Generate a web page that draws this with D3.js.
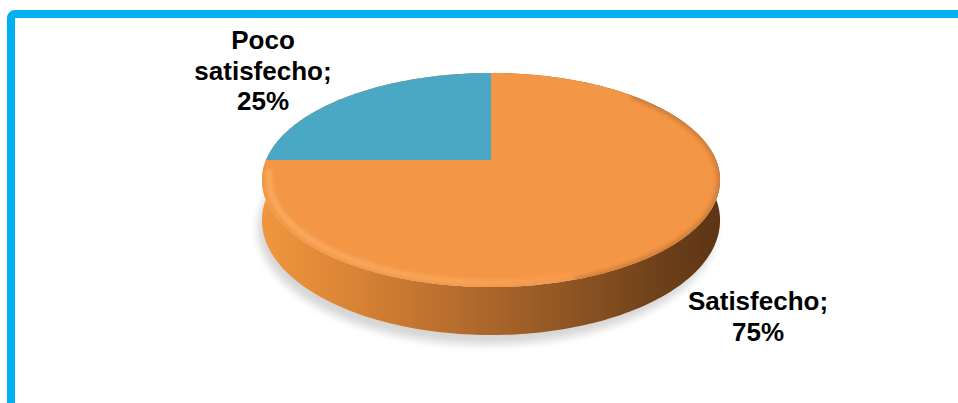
<!DOCTYPE html>
<html>
<head>
<meta charset="utf-8">
<script src="https://cdn.jsdelivr.net/npm/d3@7"></script>
<style>
    html, body { margin: 0; padding: 0; background: #ffffff; }
    svg { display: block; }
</style>
</head>
<body>
<div id="chart"></div>
<script>
// Chart data
const categories = ["Satisfecho", "Poco satisfecho"];
const values = [75, 25];
const colors = ["#f39646", "#4aa8c4"];

// Canvas size
const width = 958;
const height = 403;

// 3D pie geometry (perspective projection of a flat disc)
const pie3d = {cx: 491, cy: 160, rx: 225, ry: 103.3, k: 0.187, depth: 39};

// Label anchors (centre of each text block), same order as categories
const labelPos = [{x: 758, y: 310}, {x: 263, y: 49}];

const svg = d3.select("#chart").append("svg")
    .attr("width", width)
    .attr("height", height);

const defs = svg.append("defs");

// Side gradient: light orange on the left, dark brown on the right
const sideGrad = defs.append("linearGradient")
    .attr("id", "sideGrad")
    .attr("gradientUnits", "userSpaceOnUse")
    .attr("x1", pie3d.cx - pie3d.rx * 1.02).attr("x2", pie3d.cx + pie3d.rx * 1.02)
    .attr("y1", 0).attr("y2", 0);
[["0%", "#f0963f"], ["18%", "#dc8536"], ["45%", "#b26a2c"], ["70%", "#8a5222"], ["88%", "#6c3f19"], ["100%", "#5c3515"]]
    .forEach(s => sideGrad.append("stop").attr("offset", s[0]).attr("stop-color", s[1]));

// Highlight ridge gradient along the front edge of the top face
const ridgeGrad = defs.append("linearGradient")
    .attr("id", "ridgeGrad")
    .attr("gradientUnits", "userSpaceOnUse")
    .attr("x1", pie3d.cx - pie3d.rx).attr("x2", pie3d.cx + pie3d.rx)
    .attr("y1", 0).attr("y2", 0);
[["0%", "#ffbf7a", 0.6], ["45%", "#ffb46a", 0.55], ["75%", "#ffa85a", 0.2], ["100%", "#ffa85a", 0]]
    .forEach(s => ridgeGrad.append("stop").attr("offset", s[0]).attr("stop-color", s[1]).attr("stop-opacity", s[2]));

defs.append("filter").attr("id", "blur4")
    .attr("x", "-20%").attr("y", "-20%").attr("width", "140%").attr("height", "140%")
    .append("feGaussianBlur").attr("stdDeviation", 4);
defs.append("filter").attr("id", "blur2")
    .attr("x", "-10%").attr("y", "-10%").attr("width", "120%").attr("height", "120%")
    .append("feGaussianBlur").attr("stdDeviation", 2);

// Project a point of the disc (angle a as in d3.pie, radius fraction r) to the screen
function project(a, r, drop) {
    const u = r * Math.sin(a);
    const v = -r * Math.cos(a);
    const w = 1 - pie3d.k * v;
    return [pie3d.cx + pie3d.rx * u / w, pie3d.cy + (pie3d.ry * v + drop) / w];
}

function arcPoints(a0, a1, r, drop) {
    const n = Math.max(2, Math.ceil(Math.abs(a1 - a0) / 0.02));
    return d3.range(n + 1).map(i => project(a0 + (a1 - a0) * i / n, r, drop));
}

const line = d3.line();

// Pie layout, keep data order (starts at 12 o'clock, clockwise)
const arcs = d3.pie().sort(null)(values);

// Soft shadow under the disc
svg.append("path")
    .attr("d", line(arcPoints(0, 2 * Math.PI, 1.0, pie3d.depth + 6)) + "Z")
    .attr("fill", "#000")
    .attr("opacity", 0.16)
    .attr("transform", "translate(-4,2)")
    .attr("filter", "url(#blur4)");

// Side walls of each slice
svg.selectAll(".side")
    .data(arcs)
    .enter().append("path")
    .attr("class", "side")
    .attr("d", d => {
        const top = arcPoints(d.startAngle, d.endAngle, 1, 0);
        const bottom = arcPoints(d.startAngle, d.endAngle, 1, pie3d.depth).reverse();
        return line(top.concat(bottom)) + "Z";
    })
    .attr("fill", "url(#sideGrad)");

// Top faces of the slices
svg.selectAll(".slice")
    .data(arcs)
    .enter().append("path")
    .attr("class", "slice")
    .attr("d", d => line([[pie3d.cx, pie3d.cy]].concat(arcPoints(d.startAngle, d.endAngle, 1, 0))) + "Z")
    .attr("fill", (d, i) => colors[i]);

// Bevel: soft dark rim on the right, light ridge on the front
const topClip = defs.append("clipPath").attr("id", "topClip");
topClip.append("path").attr("d", line(arcPoints(0, 2 * Math.PI, 1, 0)) + "Z");

const bevel = svg.append("g").attr("clip-path", "url(#topClip)");

bevel.append("path")
    .attr("d", line(arcPoints(Math.PI * 0.25, Math.PI * 0.9, 1.0, 0)))
    .attr("fill", "none")
    .attr("stroke", "#8a4a1a")
    .attr("stroke-opacity", 0.35)
    .attr("stroke-width", 6)
    .attr("filter", "url(#blur2)");

bevel.append("path")
    .attr("d", line(arcPoints(Math.PI * 0.55, Math.PI * 1.47, 0.97, 0)))
    .attr("fill", "none")
    .attr("stroke", "url(#ridgeGrad)")
    .attr("stroke-width", 5)
    .attr("filter", "url(#blur2)");

// Data labels: category wrapped by words, then the percentage
arcs.forEach((d, i) => {
    const words = categories[i].split(" ");
    words[words.length - 1] += ";";
    const lines = words.concat([values[i] + "%"]);
    const t = svg.append("text")
        .attr("x", labelPos[i].x)
        .attr("y", labelPos[i].y)
        .attr("text-anchor", "middle")
        .style("font-family", "'Liberation Sans', Arial, sans-serif")
        .style("font-weight", "bold")
        .style("font-size", "26px")
        .attr("fill", "#000");
    lines.forEach((l, j) => {
        t.append("tspan")
            .attr("x", labelPos[i].x)
            .attr("dy", j === 0 ? 0 : 30.5)
            .text(l);
    });
});

// Frame around the chart area
svg.append("rect")
    .attr("x", 11)
    .attr("y", 14)
    .attr("width", 990)
    .attr("height", 420)
    .attr("rx", 4)
    .attr("fill", "none")
    .attr("stroke", "#00b0f0")
    .attr("stroke-width", 8);
</script>
</body>
</html>
